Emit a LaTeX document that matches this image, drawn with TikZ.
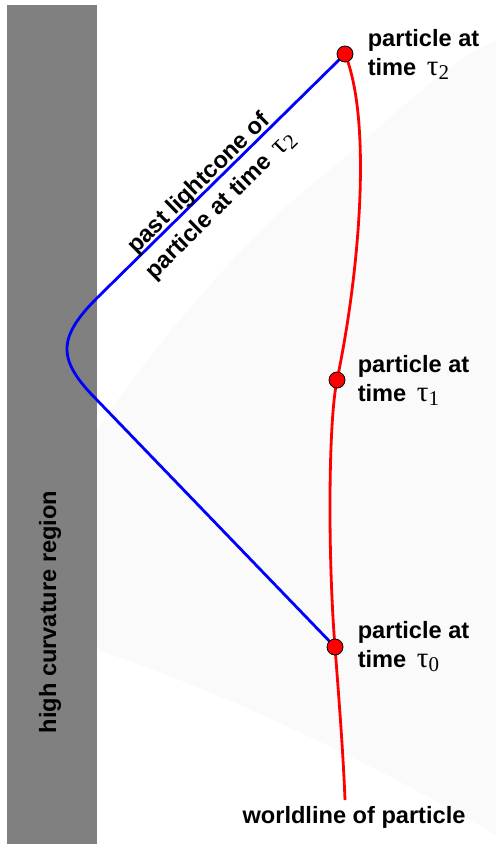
\documentclass[tikz,border=0pt]{standalone}
\usepackage{fontspec}
\setmainfont{Liberation Sans}
\newfontfamily\greekfont{Liberation Serif}
\usetikzlibrary{positioning}

\newcommand{\tlab}[1]{{\mdseries\greekfont\fontsize{14.5}{15}\selectfont τ\raisebox{-0.3ex}{\fontsize{10.5}{11}\selectfont #1}}}

\tikzset{
  particle/.style={circle,fill=red,draw=black,line width=0.4pt,minimum size=8pt,inner sep=0pt},
  worldline/.style={draw=red,line width=1.4pt},
  lightcone/.style={draw=blue,line width=1.4pt},
  tag/.style={font=\fontsize{11.8}{14.5}\selectfont\bfseries,inner sep=0pt,align=left}
}

\begin{document}
\begin{tikzpicture}[x=0.5pt,y=-0.5pt]
    \useasboundingbox (0,0) rectangle (496,844);
    % faint background shading
    \fill[black!2] (97,430) .. controls (150,350) and (250,230) .. (330,170)
      .. controls (400,110) and (450,60) .. (496,40) -- (496,835)
      .. controls (420,790) and (250,700) .. (97,650) -- cycle;
    % high curvature region
    \fill[gray] (7,5) rectangle (97,844);
    \node[tag,rotate=90] (hcr) at (50,612) {high curvature region};
    % particle positions
    \coordinate (t0) at (335,647);
    \coordinate (t1) at (337,380);
    \coordinate (t2) at (345,54);
    \coordinate (wlend) at (345,800);
    \coordinate (wallA) at (97,298);
    \coordinate (wallB) at (97,400);
    % worldline
    \draw[worldline] (t2) .. controls (372,120) and (360,270) .. (t1)
      .. controls (328,424) and (328,560) .. (t0)
      .. controls (339,700) and (343,750) .. (wlend);
    % past lightcone
    \draw[lightcone] (t2) -- (wallA) .. controls (57,338) and (57,360) .. (wallB) -- (t0);
    \node[tag,align=center,rotate=44.5,font=\fontsize{11.8}{15.5}\selectfont\bfseries] (cone) at (210,195)
      {past lightcone of\\particle at time\hspace{0.45em}\tlab{2}};
    % particles and labels
    \node[particle] (p0) at (t0) {};
    \node[particle] (p1) at (t1) {};
    \node[particle] (p2) at (t2) {};
    \node[tag,right=7pt of p2] (l2) {particle at\\time\hspace{0.45em}\tlab{2}};
    \node[tag,right=6pt of p1] (l1) {particle at\\time\hspace{0.45em}\tlab{1}};
    \node[tag,right=7pt of p0] (l0) {particle at\\time\hspace{0.45em}\tlab{0}};
    \node[tag,anchor=base] (wl) at (354,823) {worldline of particle};
  \end{tikzpicture}
\end{document}
